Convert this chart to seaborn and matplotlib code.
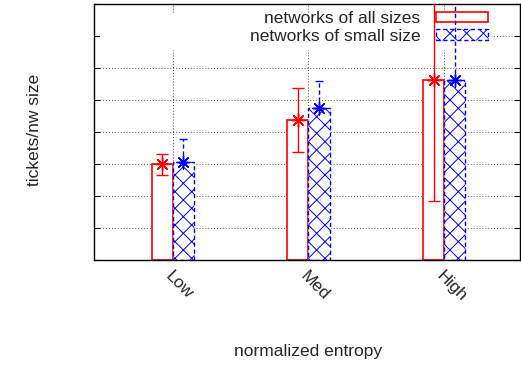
import pandas as pd
import matplotlib
matplotlib.use("Agg")
import matplotlib.pyplot as plt
import matplotlib.patches as mpatches
import seaborn as sns

# --- Données ---
categories = ["Low", "Med", "High"]
series = ["networks of all sizes", "networks of small size"]
all_sizes = [3.0, 4.375, 5.625]
small_size = [3.05, 4.75, 5.625]
all_err_low = [2.65, 3.375, 1.84]
all_err_high = [3.3, 5.375, 9.0]
small_err_high = [3.78, 5.6, 9.0]

df = pd.DataFrame({
    "entropy": categories * 2,
    "value": all_sizes + small_size,
    "network": [series[0]] * 3 + [series[1]] * 3,
})

FS = 12.5

sns.set_style("white")
plt.rcParams["font.family"] = ["Liberation Sans", "DejaVu Sans"]
plt.rcParams["hatch.color"] = "blue"
plt.rcParams["hatch.linewidth"] = 0.7

fig = plt.figure(figsize=(5.21, 3.67), dpi=100)
ax = fig.add_axes([94 / 521, 107 / 367, 426 / 521, 256 / 367])

sns.barplot(data=df, x="entropy", y="value", hue="network", order=categories,
            hue_order=series, width=0.31, gap=0, ax=ax, legend=False,
            errorbar=None, zorder=2)

# style des barres : rouge vide / bleu hachuré pointillé
bars = [p for p in ax.patches]
red_bars, blue_bars = bars[:3], bars[3:]
for p in red_bars:
    p.set_facecolor("white")
    p.set_edgecolor("red")
    p.set_linewidth(1.2)
for p in blue_bars:
    p.set_facecolor("white")
    p.set_edgecolor("blue")
    p.set_hatch("xx")
    p.set_linestyle((0, (3, 2)))
    p.set_linewidth(1.0)

# barres d'erreur (centrées sur chaque barre)
star = (8, 2, 0)
red_x = [p.get_x() + p.get_width() / 2 for p in red_bars]
blue_x = [p.get_x() + p.get_width() / 2 for p in blue_bars]
for xc, v, lo, hi in zip(red_x, all_sizes, all_err_low, all_err_high):
    ax.errorbar([xc], [v], yerr=[[v - lo], [hi - v]], fmt="none",
                ecolor="red", elinewidth=1.0, capsize=4, zorder=6)
for xc, v, hi in zip(blue_x, small_size, small_err_high):
    eb = ax.errorbar([xc], [v], yerr=[[0], [hi - v]], fmt="none", ecolor="blue",
                     elinewidth=1.0, capsize=3, zorder=6)
    for c in eb[2]:
        c.set_linestyle((0, (3, 2)))
ax.scatter(red_x, all_sizes, marker=star, s=90, color="red", linewidths=1.0, zorder=7)
ax.scatter(blue_x, small_size, marker=star, s=90, color="blue", linewidths=1.0, zorder=7)

# axes
xs = [red_bars[i].get_x() + red_bars[i].get_width() for i in range(3)]
ax.set_xticks(xs)
ax.set_xticklabels(categories, rotation=-45, ha="left", va="top", fontsize=FS,
                   rotation_mode="anchor")
ax.set_xlim(xs[0] - 79 / 136 * (xs[1] - xs[0]), xs[2] + 76 / 136 * (xs[1] - xs[0]))
ax.set_ylim(0, 8)
ax.set_yticks(range(0, 9))
ax.set_yticklabels([])
ax.tick_params(axis="both", direction="in", length=4, width=0.8, color="black",
               left=True, right=True, bottom=True, top=False, pad=6)
ax.grid(True, color="#555555", linestyle=(0, (1, 2)), linewidth=0.7)
ax.set_axisbelow(True)
for s in ax.spines.values():
    s.set_color("black")
    s.set_linewidth(1.0)

ax.set_xlabel("normalized entropy", fontsize=FS)
ax.xaxis.set_label_coords(0.502, -(344 - 260) / 256)
ax.set_ylabel("tickets/nw size", fontsize=FS)
ax.yaxis.set_label_coords(-(94 - 42) / 426, 0.508)

# fond blanc de la légende (cache la grille)
ax.add_patch(mpatches.Rectangle((6 / 426, 1 - 46 / 256), 392 / 426, 36 / 256,
                                transform=ax.transAxes, facecolor="white",
                                edgecolor="none", zorder=1))
handles = [
    mpatches.Patch(facecolor="white", edgecolor="red", linewidth=1.2),
    mpatches.Patch(facecolor="white", edgecolor="blue", hatch="xx",
                   linestyle=(0, (3, 2)), linewidth=1.0),
]
leg = ax.legend(handles, series, loc="upper right", bbox_to_anchor=(394 / 426, 1 - 7 / 256),
                frameon=False, markerfirst=False, fontsize=FS, handlelength=3.0,
                handleheight=0.55, handletextpad=0.9, labelspacing=0.15,
                borderpad=0, borderaxespad=0)
leg.set_zorder(5)

fig.savefig("out.png", dpi=100)
